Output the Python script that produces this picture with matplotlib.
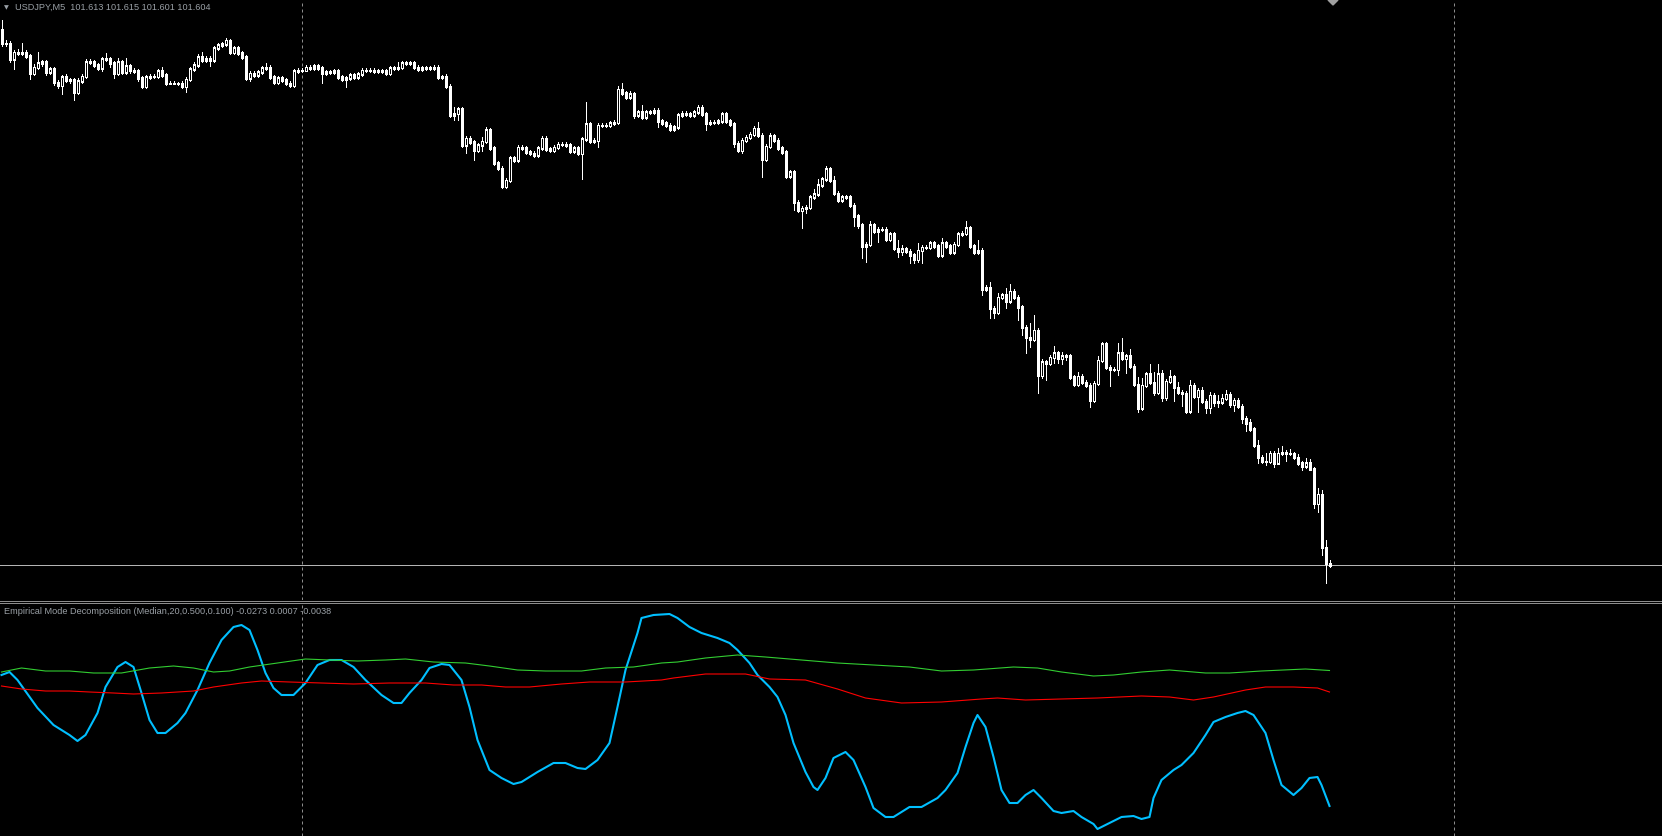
import numpy as np
import matplotlib
matplotlib.use('Agg')
import matplotlib.pyplot as plt
from matplotlib.lines import Line2D
from matplotlib.patches import Polygon

W, H = 1662, 836

symbol = 'USDJPY,M5'
last_ohlc = ['101.613', '101.615', '101.601', '101.604']
ind_name = 'Empirical Mode Decomposition (Median,20,0.500,0.100)'
ind_last = ['-0.0273', '0.0007', '-0.0038']

# M5 bars, oldest first; open of each bar = previous close
first_open = 102.674
close = [
    102.648, 102.648, 102.616, 102.630, 102.628, 102.630, 102.622, 102.588, 102.600, 102.608,
    102.610, 102.590, 102.596, 102.570, 102.564, 102.580, 102.574, 102.574, 102.550, 102.572,
    102.582, 102.610, 102.610, 102.604, 102.598, 102.616, 102.616, 102.608, 102.588, 102.610,
    102.590, 102.602, 102.594, 102.592, 102.578, 102.562, 102.580, 102.582, 102.582, 102.592,
    102.584, 102.568, 102.568, 102.568, 102.568, 102.562, 102.576, 102.596, 102.604, 102.620,
    102.614, 102.618, 102.614, 102.638, 102.644, 102.646, 102.654, 102.630, 102.638, 102.628,
    102.620, 102.578, 102.588, 102.584, 102.590, 102.598, 102.600, 102.580, 102.570, 102.578,
    102.574, 102.568, 102.564, 102.592, 102.594, 102.594, 102.600, 102.598, 102.602, 102.598,
    102.588, 102.590, 102.590, 102.592, 102.580, 102.576, 102.578, 102.584, 102.580, 102.586,
    102.594, 102.594, 102.594, 102.592, 102.592, 102.592, 102.588, 102.598, 102.598, 102.600,
    102.608, 102.608, 102.608, 102.600, 102.596, 102.598, 102.598, 102.598, 102.600, 102.580,
    102.580, 102.562, 102.504, 102.508, 102.516, 102.444, 102.458, 102.450, 102.434, 102.444,
    102.452, 102.474, 102.438, 102.408, 102.398, 102.362, 102.374, 102.418, 102.414, 102.440,
    102.438, 102.430, 102.428, 102.424, 102.438, 102.458, 102.436, 102.434, 102.440, 102.446,
    102.446, 102.444, 102.432, 102.438, 102.428, 102.456, 102.486, 102.452, 102.454, 102.484,
    102.484, 102.484, 102.488, 102.490, 102.556, 102.548, 102.540, 102.546, 102.504, 102.510,
    102.500, 102.510, 102.510, 102.514, 102.492, 102.488, 102.484, 102.476, 102.480, 102.504,
    102.508, 102.506, 102.504, 102.510, 102.520, 102.506, 102.488, 102.490, 102.490, 102.492,
    102.506, 102.492, 102.486, 102.448, 102.434, 102.454, 102.460, 102.466, 102.478, 102.464,
    102.416, 102.442, 102.462, 102.454, 102.438, 102.430, 102.382, 102.390, 102.330, 102.314,
    102.318, 102.320, 102.340, 102.346, 102.364, 102.376, 102.396, 102.374, 102.348, 102.334,
    102.340, 102.340, 102.324, 102.302, 102.284, 102.242, 102.246, 102.284, 102.272, 102.276,
    102.276, 102.256, 102.266, 102.238, 102.232, 102.236, 102.232, 102.224, 102.216, 102.234,
    102.240, 102.240, 102.248, 102.242, 102.224, 102.248, 102.242, 102.230, 102.246, 102.266,
    102.268, 102.278, 102.242, 102.230, 102.234, 102.156, 102.160, 102.118, 102.110, 102.140,
    102.144, 102.132, 102.152, 102.140, 102.120, 102.080, 102.060, 102.056, 102.074, 101.984,
    102.010, 102.008, 102.020, 102.028, 102.018, 102.022, 102.022, 101.980, 101.966, 101.982,
    101.970, 101.964, 101.934, 101.968, 102.014, 102.046, 102.000, 101.996, 101.996, 102.028,
    102.018, 102.022, 102.002, 101.966, 101.918, 101.964, 101.986, 101.970, 101.950, 101.986,
    101.940, 101.972, 101.980, 101.960, 101.950, 101.948, 101.912, 101.964, 101.942, 101.954,
    101.932, 101.920, 101.944, 101.930, 101.930, 101.938, 101.946, 101.926, 101.934, 101.922,
    101.898, 101.888, 101.876, 101.844, 101.820, 101.812, 101.812, 101.828, 101.808, 101.828,
    101.830, 101.828, 101.828, 101.820, 101.808, 101.802, 101.808, 101.796, 101.728, 101.746,
    101.640, 101.608, 101.604,
]
# shadows above / below the body, in points (0.001)
wick_up = [
    20, 6, 4, 4, 6, 18, 4, 4, 6, 22,   4, 4, 4, 4, 4, 4, 6, 4, 4, 6,
    4, 6, 6, 4, 4, 4, 12, 4, 4, 8,     4, 16, 4, 4, 4, 4, 4, 4, 4, 4,
    8, 4, 4, 4, 2, 4, 4, 4, 6, 6,      10, 4, 4, 4, 4, 4, 4, 2, 4, 4,
    4, 4, 4, 4, 4, 4, 8, 4, 4, 4,      4, 4, 4, 4, 4, 4, 4, 4, 4, 4,
    4, 4, 4, 4, 4, 4, 4, 4, 4, 4,      4, 4, 4, 4, 4, 4, 4, 4, 4, 10,
    4, 4, 4, 4, 4, 4, 4, 4, 4, 4,      4, 6, 4, 12, 4, 4, 4, 4, 4, 4,
    8, 6, 4, 4, 4, 4, 4, 4, 4, 4,      4, 4, 4, 4, 4, 4, 4, 4, 4, 4,
    4, 4, 4, 4, 4, 4, 44, 4, 4, 4,     4, 4, 4, 4, 6, 12, 4, 6, 4, 4,
    14, 4, 4, 4, 4, 4, 4, 4, 4, 4,     4, 4, 4, 4, 4, 4, 4, 4, 4, 4,
    4, 4, 4, 4, 4, 4, 4, 4, 4, 12,     4, 4, 6, 4, 4, 4, 4, 4, 4, 4,
    4, 4, 4, 10, 12, 4, 6, 4, 8, 4,    4, 4, 4, 4, 4, 4, 4, 8, 4, 4,
    4, 4, 4, 4, 16, 8, 4, 4, 4, 14,    4, 4, 4, 4, 4, 10, 4, 4, 4, 4,
    4, 14, 4, 4, 20, 4, 4, 10, 4, 8,   4, 14, 14, 4, 4, 4, 4, 28, 30, 4,
    6, 4, 4, 14, 4, 8, 4, 4, 4, 8,     4, 4, 4, 4, 8, 4, 4, 4, 4, 20,
    30, 4, 14, 4, 14, 14, 4, 20, 20, 20,  8, 4, 14, 4, 10, 4, 4, 10, 4, 4,
    6, 4, 6, 4, 14, 8, 8, 4, 4, 4,     4, 4, 8, 4, 10, 4, 16, 4, 4, 10,
    12, 4, 8, 2, 6, 4, 10, 8, 4, 12,   8, 14, 6,
]
wick_dn = [
    6, 6, 6, 20, 4, 4, 4, 12, 4, 4,    6, 6, 4, 6, 6, 18, 4, 6, 16, 4,
    4, 4, 4, 4, 4, 6, 4, 8, 10, 4,     4, 4, 6, 4, 6, 4, 4, 4, 4, 4,
    4, 4, 2, 2, 4, 4, 12, 4, 4, 4,     4, 4, 12, 4, 4, 4, 4, 4, 4, 4,
    4, 4, 6, 4, 4, 4, 4, 4, 4, 4,      4, 4, 4, 4, 4, 4, 2, 4, 4, 4,
    20, 4, 4, 4, 4, 4, 16, 4, 4, 4,    4, 4, 4, 4, 4, 4, 4, 4, 4, 4,
    4, 4, 4, 4, 4, 4, 4, 4, 4, 4,      4, 4, 4, 10, 14, 4, 16, 4, 20, 4,
    12, 4, 4, 4, 4, 4, 4, 4, 4, 4,     4, 4, 4, 4, 4, 4, 4, 4, 4, 4,
    4, 4, 4, 4, 4, 52, 4, 4, 4, 14,    4, 4, 4, 4, 4, 4, 4, 4, 6, 4,
    4, 4, 4, 4, 12, 4, 4, 4, 4, 4,     4, 4, 4, 4, 4, 4, 14, 4, 4, 4,
    4, 4, 4, 8, 4, 6, 4, 4, 4, 4,      36, 4, 4, 4, 4, 4, 4, 4, 16, 4,
    36, 10, 4, 4, 4, 4, 4, 4, 4, 4,    4, 4, 4, 20, 6, 24, 32, 4, 4, 22,
    4, 4, 4, 4, 12, 8, 4, 16, 8, 6,    26, 4, 4, 4, 4, 4, 4, 4, 4, 4,
    4, 4, 4, 4, 4, 12, 4, 20, 12, 4,   4, 14, 4, 4, 26, 16, 32, 16, 4, 36,
    6, 34, 4, 12, 10, 12, 8, 4, 4, 4,  4, 4, 14, 4, 4, 4, 4, 34, 4, 12,
    4, 30, 4, 4, 8, 4, 4, 4, 6, 4,     8, 6, 4, 28, 4, 26, 4, 4, 4, 32,
    4, 12, 12, 8, 10, 4, 4, 6, 14, 4,  10, 16, 4, 4, 12, 4, 8, 4, 8, 2,
    4, 16, 4, 4, 4, 8, 4, 2, 10, 18,   16, 40, 4,
]
day_breaks = [75, 363]   # bar index where a new day starts

# indicator buffers (bar index, value)
imf_bar = [0, 2, 4, 9, 13, 17, 19, 21, 24, 26, 29, 31, 33, 35, 37, 39, 41, 44, 46, 49,
           52, 55, 58, 60, 62, 64, 66, 68, 70, 73, 76, 79, 82, 85, 88, 91, 95, 98, 100, 102,
           105, 107, 110, 112, 115, 117, 119, 122, 125, 128, 130, 134, 138, 141, 144, 146, 149, 152, 154, 156,
           159, 160, 163, 167, 169, 172, 175, 179, 182, 184, 187, 189, 192, 194, 196, 198, 201, 203, 204, 206,
           208, 211, 213, 216, 218, 221, 223, 227, 230, 234, 236, 239, 241, 243, 244, 246, 248, 250, 252, 254,
           256, 258, 260, 263, 265, 268, 270, 273, 274, 277, 280, 283, 285, 287, 288, 290, 293, 295, 298, 301,
           303, 306, 309, 311, 313, 316, 318, 320, 323, 325, 327, 329, 330, 332]
imf = [-0.0002, 0.0004, -0.0012, -0.0068, -0.0102, -0.0122, -0.0134, -0.0122, -0.0078, -0.0026,
       0.0014, 0.0024, 0.0014, -0.0038, -0.0092, -0.0118, -0.0118, -0.0098, -0.0078, -0.0032,
       0.0022, 0.0068, 0.0094, 0.0098, 0.0088, 0.0048, 0.0002, -0.0028, -0.0042, -0.0042,
       -0.0018, 0.0018, 0.0028, 0.0028, 0.0014, -0.0012, -0.0042, -0.0058, -0.0058, -0.0038,
       -0.0012, 0.0012, 0.0020, 0.0018, -0.0012, -0.0066, -0.0132, -0.0192, -0.0208, -0.0220,
       -0.0216, -0.0196, -0.0178, -0.0178, -0.0188, -0.0190, -0.0172, -0.0138, -0.0066, 0.0008,
       0.0082, 0.0112, 0.0118, 0.0120, 0.0112, 0.0094, 0.0082, 0.0072, 0.0062, 0.0048,
       0.0022, -0.0002, -0.0026, -0.0046, -0.0082, -0.0138, -0.0196, -0.0226, -0.0232, -0.0208,
       -0.0168, -0.0156, -0.0172, -0.0226, -0.0268, -0.0286, -0.0286, -0.0266, -0.0266, -0.0248,
       -0.0232, -0.0198, -0.0146, -0.0098, -0.0082, -0.0106, -0.0166, -0.0232, -0.0258, -0.0258,
       -0.0242, -0.0232, -0.0248, -0.0274, -0.0278, -0.0274, -0.0286, -0.0300, -0.0310, -0.0298,
       -0.0286, -0.0284, -0.0290, -0.0286, -0.0248, -0.0212, -0.0192, -0.0182, -0.0158, -0.0122,
       -0.0096, -0.0086, -0.0078, -0.0074, -0.0082, -0.0118, -0.0172, -0.0222, -0.0242, -0.0228,
       -0.0208, -0.0206, -0.0222, -0.0264]
upper_bar = [0, 5, 11, 17, 23, 30, 37, 43, 48, 53, 57, 62, 69, 76, 82, 89, 96, 101, 108, 116,
             122, 129, 136, 145, 151, 158, 165, 169, 176, 184, 191, 200, 209, 218, 227, 235, 243, 253, 259, 265,
             273, 278, 285, 292, 301, 307, 315, 326, 332]
upper = [0.0004, 0.0012, 0.0006, 0.0006, 0.0002, 0.0002, 0.0012, 0.0016, 0.0012, 0.0004,
         0.0006, 0.0014, 0.0022, 0.0030, 0.0028, 0.0026, 0.0028, 0.0030, 0.0024, 0.0022,
         0.0016, 0.0008, 0.0006, 0.0006, 0.0012, 0.0014, 0.0022, 0.0024, 0.0032, 0.0038,
         0.0034, 0.0028, 0.0022, 0.0018, 0.0014, 0.0006, 0.0008, 0.0014, 0.0012, 0.0004,
         -0.0004, -0.0002, 0.0004, 0.0008, 0.0002, 0.0002, 0.0006, 0.0010, 0.0007]
lower_bar = [0, 5, 11, 17, 22, 28, 33, 40, 48, 53, 60, 65, 72, 80, 88, 97, 106, 113, 120, 126,
             132, 140, 147, 156, 165, 168, 176, 186, 192, 201, 209, 216, 225, 235, 245, 249, 256, 265, 274, 285,
             292, 298, 303, 311, 316, 323, 329, 332]
lower = [-0.0024, -0.0030, -0.0034, -0.0034, -0.0036, -0.0038, -0.0040, -0.0038, -0.0034, -0.0026,
         -0.0018, -0.0014, -0.0016, -0.0018, -0.0020, -0.0018, -0.0018, -0.0022, -0.0022, -0.0026,
         -0.0026, -0.0020, -0.0016, -0.0016, -0.0012, -0.0008, 0.0000, 0.0000, -0.0010, -0.0012,
         -0.0030, -0.0048, -0.0058, -0.0056, -0.0050, -0.0048, -0.0052, -0.0050, -0.0048, -0.0044,
         -0.0046, -0.0052, -0.0046, -0.0032, -0.0026, -0.0026, -0.0028, -0.0036]

close = np.array(close)
opens = np.r_[first_open, close[:-1]]
x = np.arange(len(close))
top = np.maximum(opens, close)
bot = np.minimum(opens, close)
high = top + np.array(wick_up) / 1000
low = bot - np.array(wick_dn) / 1000
bull = close > opens

fig = plt.figure(figsize=(W / 100, H / 100), dpi=100, facecolor='black')

# price window (4 px per bar, bar centred on a pixel)
p_lo, p_hi = 101.534, 102.734
px = (p_hi - p_lo) / 600          # price per screen pixel
one = 0.72                        # 1 px in points
ax = fig.add_axes([0, 1 - 600 / H, 1, 600 / H])
ax.set_axis_off()
ax.set_xlim(-0.375, 415.125)
ax.set_ylim(p_lo, p_hi)
ax.axhline(close[-1], color='#b4b4b4', linewidth=one, zorder=1)
ax.vlines(x, low, high, colors='white', linewidth=one, antialiased=False, zorder=2)
ax.vlines(x, bot - px / 2, top + px / 2, colors='white', linewidth=3 * one,
          capstyle='butt', antialiased=False, zorder=3)
hollow = bull & (top - bot > 1.5 * px)
ax.vlines(x[hollow], bot[hollow] + px / 2, top[hollow] - px / 2, colors='black',
          linewidth=one, capstyle='butt', antialiased=False, zorder=4)

# indicator window
ax2 = fig.add_axes([0, 0, 1, 233 / H])
ax2.set_axis_off()
ax2.set_xlim(-0.375, 415.125)
ax2.set_ylim(-0.0324, 0.0142)
ax2.plot(imf_bar, imf, color='#00bfff', linewidth=1.5, zorder=3)
ax2.plot(upper_bar, upper, color='#32cd32', linewidth=0.8, zorder=4)
ax2.plot(lower_bar, lower, color='#ff0000', linewidth=0.8, zorder=4)

for a in (ax, ax2):
    for d in day_breaks:
        a.axvline(d, color='#8c8c8c', linewidth=one, linestyle=(0, (3, 3)), zorder=1)

# window separator
for yp in (600.5, 602.5):
    fig.add_artist(Line2D([0, 1], [1 - yp / H] * 2, color='#8c8c8c', linewidth=one,
                          transform=fig.transFigure))

# chart shift marker
fig.add_artist(Polygon([(1328 / W, 1), (1338 / W, 1), (1333 / W, 1 - 5 / H)],
                       closed=True, color='#a0a0a0', transform=fig.transFigure))

txt = '#9aa0a6'
fig.text(4 / W, 1 - 7.5 / H, '\u25bc', color=txt, fontsize=4.5, family='DejaVu Sans', va='center')
fig.text(15 / W, 1 - 7.5 / H, symbol + '  ' + ' '.join(last_ohlc), color=txt,
         fontsize=6.6, family=['Liberation Sans', 'DejaVu Sans'], va='center')
fig.text(4 / W, 1 - 611 / H, ind_name + ' ' + ' '.join(ind_last), color=txt,
         fontsize=6.6, family=['Liberation Sans', 'DejaVu Sans'], va='center')

fig.savefig('out.png', dpi=100, facecolor='black')
